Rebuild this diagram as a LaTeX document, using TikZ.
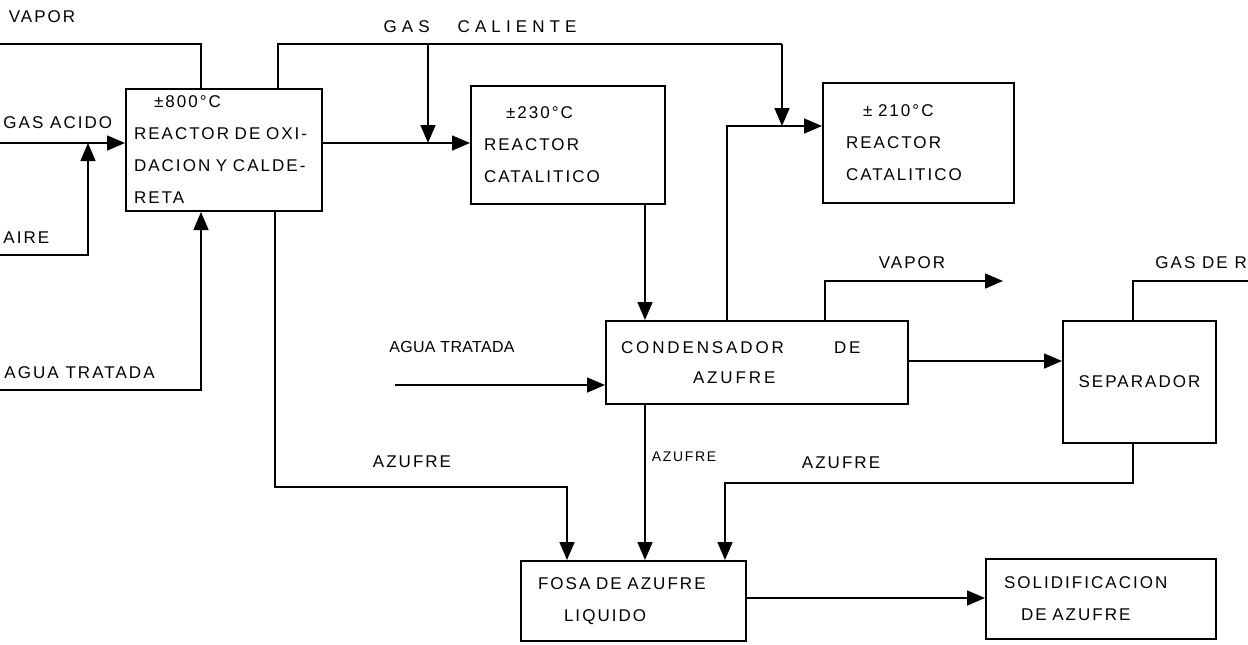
\documentclass[tikz,border=0pt]{standalone}
\usepackage{fontspec}
\setmainfont{Liberation Sans}
\newfontfamily\hand[LetterSpace=12]{Liberation Sans}
\usetikzlibrary{arrows.meta}
\begin{document}
\begin{tikzpicture}[x=0.5pt,y=-0.5pt,
  box/.style={draw, line width=1pt, anchor=north west, inner ysep=0pt, align=left,
              font=\hand\fontsize{8.5}{16}\selectfont},
  lbl/.style={inner sep=0pt, font=\hand\fontsize{8.5}{10}\selectfont},
  flow/.style={line width=0.8pt},
  arr/.style={flow, -{Triangle[length=9pt,width=7.5pt]}},
]
\useasboundingbox (0,0) rectangle (1248,644);
\clip (0,0) rectangle (1248,644);

% boxes
\node[box, inner xsep=4pt, text width=90pt, minimum height=61pt] (b1) at (125,88)
  {\hspace{10pt}±800°C\\REACTOR DE OXI-\\DACION Y CALDE-\\RETA};
\node[box, inner xsep=6.5pt, text width=84pt, minimum height=59pt] (b2) at (470,85)
  {\hspace{11pt}±230°C\\REACTOR\\CATALITICO};
\node[box, inner xsep=11.5pt, text width=72.5pt, minimum height=60pt] (b3) at (822,82)
  {\hspace{8.5pt}± 210°C\\REACTOR\\CATALITICO};
\node[box, inner xsep=7.5pt, text width=136pt, minimum height=41.5pt,
      font=\hand\addfontfeature{LetterSpace=17}\fontsize{8.5}{15}\selectfont] (bc) at (605,320)
  {CONDENSADOR\hspace{25pt}DE\\\hspace{36pt}AZUFRE};
\node[box, inner xsep=0pt, minimum width=76.5pt, minimum height=61pt, align=center] (bs) at (1062,320) {SEPARADOR};
\node[box, inner xsep=8.5pt, text width=95.5pt, minimum height=40pt] (bf) at (520,560)
  {FOSA DE AZUFRE\\\hspace{13pt}LIQUIDO};
\node[box, inner xsep=9pt, text width=97pt, minimum height=40pt] (bsol) at (985,558)
  {SOLIDIFICACION\\\hspace{8.5pt}DE AZUFRE};

% labels
\node[lbl] (lvap) at (42,17) {VAPOR};
\node[lbl, anchor=west] (lga) at (3,123) {GAS ACIDO};
\node[lbl, anchor=west] (lair) at (3,238) {AIRE};
\node[lbl, anchor=east] (lagua) at (155,373) {AGUA TRATADA};
\node[lbl, font=\hand\addfontfeature{LetterSpace=30}\fontsize{8.5}{10}\selectfont] (lgc) at (480,27) {GAS\hspace{14pt}CALIENTE};
\node[lbl, font=\hand\addfontfeature{LetterSpace=2}\fontsize{8}{10}\selectfont] (lagua2) at (452,347) {AGUA TRATADA};
\node[lbl] (lvap2) at (912,263) {VAPOR};
\node[lbl, anchor=west] (lgasr) at (1155,263) {GAS DE R};
\node[lbl] (laz1) at (412,462) {AZUFRE};
\node[lbl, font=\hand\fontsize{7}{8}\selectfont] (laz2) at (684,457) {AZUFRE};
\node[lbl] (laz3) at (841,463) {AZUFRE};

% coordinates
\coordinate (vapIn) at (0,44);
\coordinate (gaIn) at (0,143);
\coordinate (airIn) at (0,255);
\coordinate (aguaIn) at (0,390);
\coordinate (j1) at (88,143);
\coordinate (xv) at (201,0);
\coordinate (xg) at (278,0);
\coordinate (xb) at (275,0);
\coordinate (gasTop) at (782,44);
\coordinate (j2) at (428,143);
\coordinate (j3) at (782,126);
\coordinate (xc) at (645,0);
\coordinate (xr) at (727,0);
\coordinate (aguaB) at (395,385);
\coordinate (xvap) at (825,0);
\coordinate (vapOut) at (1003,281);
\coordinate (ys) at (0,361);
\coordinate (xsep) at (1133,0);
\coordinate (gasOut) at (1250,281);
\coordinate (k1) at (567,487);
\coordinate (k3) at (725,483);
\coordinate (yf) at (0,598);

% connectors
\draw[flow] (vapIn) -| (b1.north -| xv);
\draw[arr] (gaIn) -- (b1.west |- gaIn);
\draw[arr] (airIn) -| (j1);
\draw[arr] (aguaIn) -| (b1.south -| xv);
\draw[flow] (b1.north -| xg) |- (gasTop);
\draw[arr] (gasTop) -- (j3);
\draw[arr] (j2 |- gasTop) -- (j2);
\draw[arr] (b1.east |- j2) -- (b2.west |- j2);
\draw[arr] (b2.south -| xc) -- (bc.north -| xc);
\draw[arr] (bc.north -| xr) |- (b3.west |- j3);
\draw[arr] (aguaB) -- (bc.west |- aguaB);
\draw[arr] (bc.north -| xvap) |- (vapOut);
\draw[arr] (bc.east |- ys) -- (bs.west |- ys);
\draw[flow] (bs.north -| xsep) |- (gasOut);
\draw[arr] (bs.south -| xsep) |- (k3) -- (bf.north -| k3);
\draw[arr] (bc.south -| xc) -- (bf.north -| xc);
\draw[arr] (b1.south -| xb) |- (k1) -- (bf.north -| k1);
\draw[arr] (bf.east |- yf) -- (bsol.west |- yf);
\end{tikzpicture}
\end{document}
